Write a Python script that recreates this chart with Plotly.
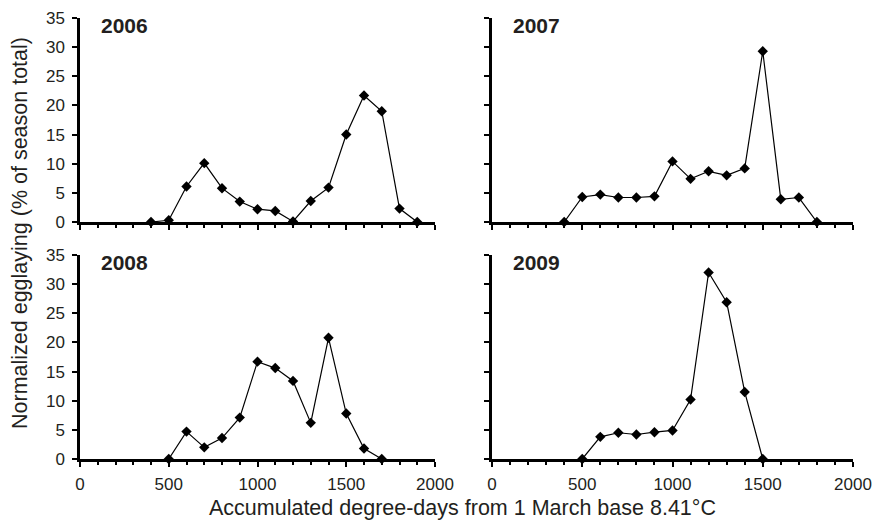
import plotly.graph_objects as go

years = ["2006", "2007", "2008", "2009"]

x_2006 = [400, 500, 600, 700, 800, 900, 1000, 1100, 1200, 1300, 1400, 1500, 1600, 1700, 1800, 1900]
y_2006 = [0, 0.3, 6.1, 10.1, 5.8, 3.5, 2.2, 1.9, 0.1, 3.6, 5.9, 15.0, 21.7, 19.0, 2.3, 0]

x_2007 = [400, 500, 600, 700, 800, 900, 1000, 1100, 1200, 1300, 1400, 1500, 1600, 1700, 1800]
y_2007 = [0, 4.3, 4.7, 4.2, 4.2, 4.4, 10.4, 7.4, 8.7, 8.0, 9.2, 29.3, 3.9, 4.2, 0]

x_2008 = [500, 600, 700, 800, 900, 1000, 1100, 1200, 1300, 1400, 1500, 1600, 1700]
y_2008 = [0, 4.7, 2.0, 3.6, 7.1, 16.7, 15.6, 13.4, 6.2, 20.8, 7.8, 1.8, 0]

x_2009 = [500, 600, 700, 800, 900, 1000, 1100, 1200, 1300, 1400, 1500]
y_2009 = [0, 3.8, 4.5, 4.2, 4.6, 4.9, 10.2, 32.0, 26.9, 11.5, 0]

x_tickvals = [0, 500, 1000, 1500, 2000]
y_tickvals = [0, 5, 10, 15, 20, 25, 30, 35]

x_title = "Accumulated degree-days from 1 March base 8.41°C"
y_title = "Normalized egglaying (% of season total)"

series = [(x_2006, y_2006), (x_2007, y_2007), (x_2008, y_2008), (x_2009, y_2009)]

W, H = 872, 521
FONT = "Liberation Sans, Arial, sans-serif"
TXT = "#231f20"

# pixel domains
xdoms = [(80, 435), (492, 853)]
ydoms = [(18, 222), (255, 459)]

fig = go.Figure()
layout = dict(
    width=W, height=H,
    margin=dict(l=0, r=0, t=0, b=0, autoexpand=False),
    paper_bgcolor="white", plot_bgcolor="white",
    showlegend=False,
    font=dict(family=FONT, color=TXT),
)
annotations = []
for i, (xs, ys) in enumerate(series):
    row, col = divmod(i, 2)
    idx = "" if i == 0 else str(i + 1)
    xa, ya = "x" + idx, "y" + idx
    fig.add_trace(go.Scatter(
        x=xs, y=ys, xaxis=xa, yaxis=ya, mode="lines+markers",
        line=dict(color="black", width=1.2),
        marker=dict(symbol="diamond", size=8, color="black"),
        cliponaxis=False,
    ))
    x0, x1 = xdoms[col]
    y0, y1 = ydoms[row]
    layout["xaxis" + idx] = dict(
        domain=[x0 / W, x1 / W], range=[0, 2000], anchor=ya, automargin=False,
        showgrid=False, zeroline=False, showline=True, linecolor="black", linewidth=2.5,
        tickmode="array", tickvals=x_tickvals, ticks="outside", ticklen=5, tickwidth=2,
        tickcolor="black", showticklabels=(row == 1), ticklabelstandoff=3,
        tickfont=dict(size=17, family=FONT, color=TXT),
        minor=dict(dtick=100, tick0=0, ticks="outside", ticklen=3, tickwidth=2, tickcolor="black", showgrid=False),
        fixedrange=True,
    )
    layout["yaxis" + idx] = dict(
        domain=[1 - y1 / H, 1 - y0 / H], range=[0, 35], anchor=xa, automargin=False,
        showgrid=False, zeroline=False, showline=True, linecolor="black", linewidth=2.5,
        tickmode="array", tickvals=y_tickvals, ticks="outside", ticklen=5, tickwidth=2,
        tickcolor="black", showticklabels=(col == 0), ticklabelstandoff=4,
        tickfont=dict(size=17, family=FONT, color=TXT),
        fixedrange=True,
    )
    annotations.append(dict(
        text="<b>" + years[i] + "</b>", xref=xa + " domain", yref=ya + " domain",
        x=0.054, y=1.03, xanchor="left", yanchor="top", showarrow=False,
        font=dict(size=21, family=FONT, color=TXT),
    ))

annotations.append(dict(
    text=x_title, xref="paper", yref="paper", x=463 / W, y=1 - 508 / H,
    xanchor="center", yanchor="middle", showarrow=False,
    font=dict(size=21.5, family=FONT, color=TXT),
))
annotations.append(dict(
    text=y_title, xref="paper", yref="paper", x=20 / W, y=1 - 233 / H,
    xanchor="center", yanchor="middle", showarrow=False, textangle=-90,
    font=dict(size=21.5, family=FONT, color=TXT),
))
layout["annotations"] = annotations
fig.update_layout(**layout)
fig.write_html(
    "out.html",
    config={"displayModeBar": False},
    post_script="document.body.style.margin='0px';document.body.style.overflow='hidden';",
)
